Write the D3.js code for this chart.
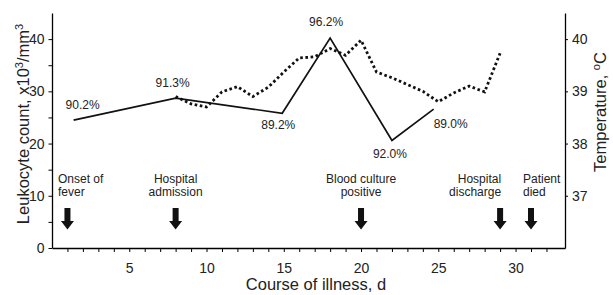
<!DOCTYPE html>
<html>
<head>
<meta charset="utf-8">
<script src="https://cdn.jsdelivr.net/npm/d3@7"></script>
<style>
  body { margin: 0; background: #fff; }
  svg text { font-family: "Liberation Sans", Arial, sans-serif; fill: #222; }
</style>
</head>
<body>
<div id="chart"></div>
<script>
// leukocyte count (x10^3/mm^3) with neutrophil %
var wbcDays = [1.4, 8, 14.9, 18, 22, 24.7];
var wbcCount = [24.5, 28.7, 25.8, 40.2, 20.6, 26.6];
var wbcLabels = ["90.2%", "91.3%", "89.2%", "96.2%", "92.0%", "89.0%"];

// temperature, C
var tempDays = [8, 9, 10, 11, 12, 13, 14, 15, 16, 17, 18, 19, 20, 21, 22, 23, 24, 25, 26, 27, 28, 29];
var tempValues = [38.9, 38.76, 38.7, 38.99, 39.09, 38.9, 39.08, 39.37, 39.64, 39.66, 39.82, 39.69, 39.98, 39.37, 39.26, 39.13, 39.0, 38.8, 38.97, 39.1, 38.99, 39.73];

// clinical events
var eventDays = [1, 8, 20, 29, 31];
var eventLines = [["Onset of", "fever"], ["Hospital", "admission"], ["Blood culture", "positive"], ["Hospital", "discharge"], ["Patient", "died"]];

var xTicks = [5, 10, 15, 20, 25, 30];
var wbcTicks = [0, 10, 20, 30, 40];
var tempTicks = [37, 38, 39, 40];

var W = 613, H = 295;
var plotL = 52, plotR = 565, plotT = 13, plotB = 248;

var svg = d3.select("#chart").append("svg").attr("width", W).attr("height", H);

var x = d3.scaleLinear().domain([0, 33.2]).range([plotL, plotR]);
var y = d3.scaleLinear().domain([0, 45]).range([plotB, plotT]);
var yT = d3.scaleLinear().domain([36, 40.5]).range([plotB, plotT]);

function styleAxis(g) {
	g.select(".domain").attr("stroke", "#000").attr("stroke-width", 1.3);
	g.selectAll(".tick line").attr("stroke", "#000");
	g.selectAll("text").attr("font-size", "14px").attr("fill", "#222")
		.attr("font-family", "Liberation Sans, Arial, sans-serif");
}

// x axis: minor ticks every day, labels every 5
svg.append("g").attr("transform", "translate(0," + plotB + ")")
	.call(d3.axisBottom(x).tickValues(d3.range(1, 33)).tickSize(4).tickSizeOuter(0)
		.tickFormat(function(d) { return xTicks.indexOf(d) >= 0 ? d : ""; }).tickPadding(11))
	.call(styleAxis);

// left axis
svg.append("g").attr("transform", "translate(" + plotL + ",0)")
	.call(d3.axisLeft(y).tickValues(d3.range(0, 45, 5)).tickSize(3.5).tickSizeOuter(0)
		.tickFormat(function(d) { return wbcTicks.indexOf(d) >= 0 ? d : ""; }).tickPadding(4))
	.call(styleAxis);

// right axis
svg.append("g").attr("transform", "translate(" + plotR + ",0)")
	.call(d3.axisRight(yT).tickValues(tempTicks).tickFormat(d3.format("d"))
		.tickSize(3).tickSizeOuter(0).tickPadding(4))
	.call(styleAxis);

// axis titles
svg.append("text")
	.attr("transform", "translate(" + 29 + "," + 124 + ") rotate(-90)")
	.attr("text-anchor", "middle").attr("font-size", "16.5px")
	.html('Leukocyte count, x10<tspan dy="-6" font-size="11px">3</tspan><tspan dy="6">/mm</tspan><tspan dy="-6" font-size="11px">3</tspan>');

svg.append("text")
	.attr("transform", "translate(" + 606 + "," + 112 + ") rotate(-90)")
	.attr("text-anchor", "middle").attr("font-size", "16.5px")
	.html('Temperature, <tspan dy="-6" font-size="11px">o</tspan><tspan dy="6">C</tspan>');

svg.append("text")
	.attr("x", 316).attr("y", 290)
	.attr("text-anchor", "middle").attr("font-size", "16.5px")
	.text("Course of illness, d");

// temperature (dotted)
var tempLine = d3.line().x(function(d, i) { return x(tempDays[i]); }).y(function(d) { return yT(d); });
svg.append("path").datum(tempValues)
	.attr("d", tempLine)
	.attr("fill", "none").attr("stroke", "#111").attr("stroke-width", 2.8)
	.attr("stroke-dasharray", "2.6,2.6");

// leukocytes (solid)
var wbcLine = d3.line().x(function(d, i) { return x(wbcDays[i]); }).y(function(d) { return y(d); });
svg.append("path").datum(wbcCount)
	.attr("d", wbcLine)
	.attr("fill", "none").attr("stroke", "#111").attr("stroke-width", 1.7)
	.attr("stroke-linejoin", "miter");

// percentage labels next to each point
var labelOffset = [[9, -11], [-3, -11], [-4, 16], [-4, -12], [-2, 18], [17, 19]];
svg.selectAll("text.pct").data(wbcCount).enter().append("text")
	.classed("pct", true)
	.attr("x", function(d, i) { return x(wbcDays[i]) + labelOffset[i][0]; })
	.attr("y", function(d, i) { return y(d) + labelOffset[i][1]; })
	.attr("text-anchor", "middle").attr("font-size", "12px")
	.text(function(d, i) { return wbcLabels[i]; });

// event annotations with arrows
var anchors = ["start", "middle", "middle", "end", "start"];
var textShift = [-9.5, 0, 0, 1, -8];
var ev = svg.selectAll("g.event").data(eventDays).enter().append("g")
	.classed("event", true)
	.attr("transform", function(d) { return "translate(" + x(d) + ",0)"; });
ev.each(function(d, i) {
	var g = d3.select(this);
	eventLines[i].forEach(function(line, j) {
		g.append("text")
			.attr("x", textShift[i]).attr("y", 183 + j * 13)
			.attr("text-anchor", anchors[i]).attr("font-size", "12px")
			.text(line);
	});
	g.append("path")
		.attr("d", "M-3,208 L3,208 L3,221 L6.5,221 L0,229.5 L-6.5,221 L-3,221 Z")
		.attr("fill", "#111");
});
</script>
</body>
</html>
